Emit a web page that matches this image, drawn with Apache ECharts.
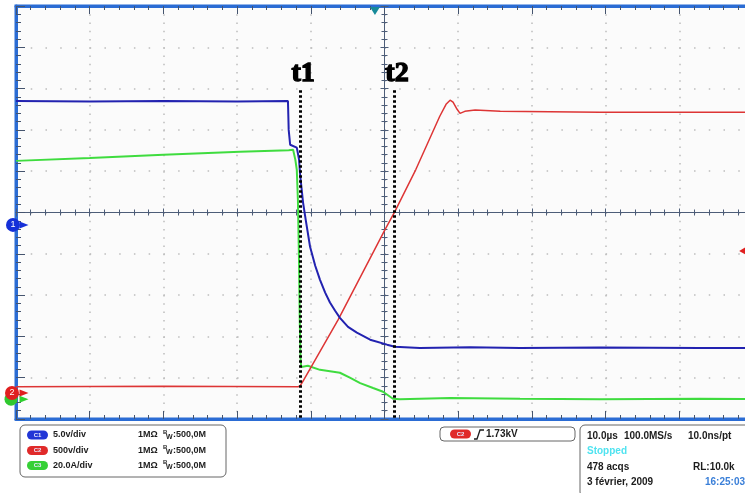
<!DOCTYPE html>
<html><head><meta charset="utf-8">
<script src="https://cdn.jsdelivr.net/npm/echarts@6/dist/echarts.min.js"></script>
<style>html,body{margin:0;padding:0;background:#fff}#c{width:745px;height:493px}</style>
</head><body><div id="c"></div>
<script>
// time axis in microseconds (10 us/div), vertical in screen divisions
const blueT = [-50,-40,-30,-20,-13.1,-13.0,-12.8,-11.9,-11.6,-11.45,-11.05,-10.65,-10.1,-9.4,-8.75,-8.05,-7.4,-6.7,-6.05,-4.95,-3.75,-1.95,0.35,1.4,4.8,11.6,18.4,29.2,42.8,50];
const blueV = [2.70,2.69,2.70,2.69,2.70,2.0,1.64,1.57,1.29,0.92,0.24,-0.22,-0.83,-1.29,-1.63,-1.94,-2.18,-2.38,-2.55,-2.77,-2.91,-3.08,-3.2,-3.25,-3.28,-3.26,-3.28,-3.27,-3.28,-3.28];
const greenT = [-50,-40,-30,-19.6,-13.0,-12.4,-12.1,-11.9,-11.75,-11.6,-11.5,-11.4,-11.3,-10.4,-8.75,-6.05,-4.7,-3.3,-1.55,-0.2,1.15,2.1,8.9,18.4,29.2,42.8,50];
const greenV = [1.25,1.32,1.40,1.47,1.51,1.52,1.28,1.03,0.31,-1.15,-2.6,-3.5,-3.74,-3.71,-3.81,-3.88,-4.0,-4.13,-4.25,-4.34,-4.51,-4.52,-4.49,-4.51,-4.52,-4.51,-4.52];
const redT = [-50,-30,-11.75,-11.45,-11.05,-6.3,0.05,1.4,4.25,7.5,8.35,8.9,9.3,9.85,10.25,10.9,12.3,15.7,29.2,50];
const redV = [-4.22,-4.21,-4.22,-4.2,-4.08,-2.6,-0.42,0.02,1.04,2.33,2.62,2.72,2.67,2.5,2.4,2.45,2.48,2.45,2.43,2.43];
const cursorNames = ['t1','t2'];
const cursorT = [-11.46, 1.29];
const cursorTop = 2.96;
const chanOffsets = {c1:-0.30, c2:-4.37, c3:-4.52};
const trigPos = -1.3, trigLevel = -0.93;
const xMin=-50, xMax=50, xStep=10, yMin=-5, yMax=5, yStep=1;

const BORDER='#2b6cd4', TICK='#45546e', AX='#4d5d78', DOT='#bdbdbd';
const zip=(a,b)=>a.map((t,i)=>[t,b[i]]);
const xb={type:'value',min:xMin,max:xMax,interval:xStep,axisLabel:{show:false},splitLine:{show:false}};
const yb={type:'value',min:yMin,max:yMax,interval:yStep,axisLabel:{show:false},splitLine:{show:false}};
const border=(len,mlen)=>({axisLine:{show:true,onZero:false,lineStyle:{color:BORDER,width:3}},axisTick:{inside:true,length:len,lineStyle:{color:TICK}},minorTick:{show:true,splitNumber:5,length:mlen,lineStyle:{color:TICK}}});
const center=(inside)=>({axisLine:{onZero:true,onZeroAxisIndex:0,lineStyle:{color:AX,width:1}},axisTick:{inside:inside,length:4,lineStyle:{color:AX}},minorTick:{show:true,splitNumber:5,length:3,lineStyle:{color:AX}}});

const chart=echarts.init(document.getElementById('c'),null,{renderer:'canvas'});
const bold9='bold 9px "Liberation Sans", Arial, sans-serif';
const bold10='bold 10px "Liberation Sans", Arial, sans-serif';
function txt(t,x,y,font,fill){return {type:'text',z:10,style:{text:t,x:x,y:y,font:font||bold9,fill:fill||'#1c1c1c',textVerticalAlign:'middle',verticalAlign:'middle'}};}
function pill(x,y,col,label){return [
 {type:'rect',z:10,shape:{x:x,y:y-4.5,width:21,height:9,r:4.5},style:{fill:col}},
 {type:'text',z:11,style:{text:label,x:x+10.5,y:y,font:'bold 6px "Liberation Sans", Arial',fill:'#e8e8ff',textAlign:'center',align:'center',textVerticalAlign:'middle',verticalAlign:'middle'}}];}
function bwRow(y){return [txt('1MΩ',138,y),txt('B',163,y-3,'bold 6px "Liberation Sans", Arial'),txt('W',166,y+2,'bold 7px "Liberation Sans", Arial'),txt(':500,0M',173,y)];}
const rows=[['#2236d6','C1','5.0v/div',435],['#e02a2a','C2','500v/div',450.5],['#36d036','C3','20.0A/div',465.5]];
let graphics=[
 {type:'rect',z:9,shape:{x:20,y:425,width:206,height:52,r:5},style:{fill:'#fff',stroke:'#666',lineWidth:1}},
 {type:'rect',z:9,shape:{x:440,y:427,width:135,height:14,r:4},style:{fill:'#fff',stroke:'#666',lineWidth:1}},
 {type:'rect',z:9,shape:{x:580,y:425,width:200,height:72,r:5},style:{fill:'#fff',stroke:'#666',lineWidth:1}}
];
rows.forEach(r=>{graphics=graphics.concat(pill(27,r[3],r[0],r[1]));graphics.push(txt(r[2],53,r[3]));graphics=graphics.concat(bwRow(r[3]));});
graphics=graphics.concat(pill(450,434,'#e02a2a','C2'));
graphics.push({type:'polyline',z:10,shape:{points:[[474,439],[477,439],[480,430],[484,430]]},style:{stroke:'#1c1c1c',lineWidth:1.3,fill:null}});
graphics.push(txt('1.73kV',486,434,bold10));
graphics.push(txt('10.0µs',587,436,bold10),txt('100.0MS/s',624,436,bold10),txt('10.0ns/pt',688,436,bold10));
graphics.push(txt('Stopped',587,451.5,bold10,'#4fe3f0'));
graphics.push(txt('478 acqs',587,467,bold10),txt('RL:10.0k',693,467,bold10));
graphics.push(txt('3 février, 2009',587,482,bold10),txt('16:25:03',705,482,bold10,'#3a7fd8'));

const mp=(coord,opt)=>Object.assign({coord:coord},opt);
const option={
 animation:false,
 backgroundColor:'#ffffff',
 grid:{left:16,top:6,width:737,height:413,show:true,backgroundColor:'#fbfbfb',borderWidth:3,borderColor:BORDER,outerBoundsMode:'none'},
 xAxis:[
  Object.assign({},xb,{position:'bottom'},border(8,4),{splitLine:{show:true,showMinLine:false,showMaxLine:false,lineStyle:{color:DOT,width:1.5,type:[1.5,6.76]}}}),
  Object.assign({},xb,{position:'top'},border(8,4)),
  Object.assign({},xb,{position:'bottom'},center(true)),
  Object.assign({},xb,{position:'bottom'},center(false))
 ],
 yAxis:[
  Object.assign({},yb,{position:'left'},border(9,5),{splitLine:{show:true,showMinLine:false,showMaxLine:false,lineStyle:{color:DOT,width:1.5,type:[1.5,13.24]}}}),
  Object.assign({},yb,{position:'left'},center(true)),
  Object.assign({},yb,{position:'left'},center(false))
 ],
 series:[
  {type:'line',name:'C3',data:zip(greenT,greenV),showSymbol:false,symbol:'none',lineStyle:{color:'#3fdc3f',width:2},itemStyle:{color:'#3fdc3f'},
   markPoint:{silent:true,animation:false,data:[
    mp([xMin,chanOffsets.c3],{symbol:'circle',symbolSize:13,symbolOffset:[-5,0],itemStyle:{color:'#2fc92f'},label:{show:false}}),
    mp([xMin,chanOffsets.c3],{symbol:'triangle',symbolRotate:-90,symbolSize:[7,9],symbolOffset:[8,0],itemStyle:{color:'#2fd02f'},label:{show:false}})
   ]}},
  {type:'line',name:'C2',data:zip(redT,redV),showSymbol:false,symbol:'none',lineStyle:{color:'#dd3535',width:1.5},itemStyle:{color:'#dd3535'},
   markPoint:{silent:true,animation:false,data:[
    mp([xMin,chanOffsets.c2],{symbol:'circle',symbolSize:14,symbolOffset:[-4,0],itemStyle:{color:'#e02020'},label:{show:true,position:'inside',formatter:'2',color:'#fff',fontSize:9}}),
    mp([xMin,chanOffsets.c2],{symbol:'triangle',symbolRotate:-90,symbolSize:[7,9],symbolOffset:[8,0],itemStyle:{color:'#e02020'},label:{show:false}}),
    mp([xMax*0.972,trigLevel],{symbol:'triangle',symbolRotate:90,symbolSize:[8,7],itemStyle:{color:'#e02020'},label:{show:false}})
   ]}},
  {type:'line',name:'C1',data:zip(blueT,blueV),showSymbol:false,symbol:'none',lineStyle:{color:'#2222b0',width:2},itemStyle:{color:'#2222b0'},
   markPoint:{silent:true,animation:false,data:[
    mp([xMin,chanOffsets.c1],{symbol:'circle',symbolSize:14,symbolOffset:[-3,0],itemStyle:{color:'#1530d8'},label:{show:true,position:'inside',formatter:'1',color:'#fff',fontSize:9}}),
    mp([xMin,chanOffsets.c1],{symbol:'triangle',symbolRotate:-90,symbolSize:[7,9],symbolOffset:[8,0],itemStyle:{color:'#1530d8'},label:{show:false}}),
    mp([trigPos,yMax],{symbol:'triangle',symbolRotate:180,symbolSize:[10,8],symbolOffset:[0,5],itemStyle:{color:'#178a99'},label:{show:false}})
   ]},
   markLine:{silent:true,animation:false,symbol:['none','none'],
    lineStyle:{color:'#000',width:3,type:[2.5,2.5]},
    label:{show:false},
    data:cursorT.map((t,i)=>[{name:cursorNames[i],coord:[t,cursorTop]},{coord:[t,yMin]}])}
  }
 ],
 graphic:graphics
};
chart.setOption(option);
// cursor labels placed from data coordinates
const labelGraphics = cursorT.map((t,i)=>{
  const p = chart.convertToPixel({gridIndex:0},[t,cursorTop]);
  return {type:'text',z:12,style:{text:cursorNames[i],x:p[0]+3,y:p[1]-2,font:'bold 28px "Liberation Serif","Times New Roman",serif',fill:'#000',stroke:'#000',lineWidth:1.4,textAlign:'center',align:'center',textVerticalAlign:'bottom',verticalAlign:'bottom'}};
});
chart.setOption({graphic:graphics.concat(labelGraphics)});
</script></body></html>
